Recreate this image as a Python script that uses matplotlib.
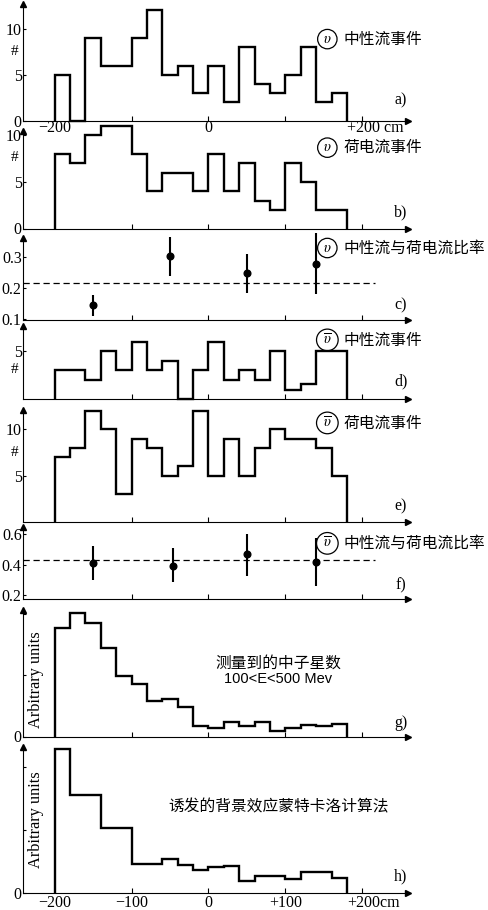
import numpy as np
import matplotlib
matplotlib.use('Agg')
import matplotlib.pyplot as plt

plt.rcParams['font.family'] = ['Liberation Serif', 'Noto Sans CJK SC']
plt.rcParams['mathtext.fontset'] = 'stix'
plt.rcParams['font.size'] = 11.5

# bin edges in cm, 20 cm bins from -200 to +180
edges = np.arange(-200, 181, 20)

# a) neutrino neutral-current events
nu_nc = [5, 0, 9, 6, 6, 9, 12, 5, 6, 3, 6, 2, 8, 4, 3, 5, 8, 2, 3]
# b) neutrino charged-current events
nu_cc = [8, 7, 10, 11, 11, 8, 4, 6, 6, 4, 8, 4, 7, 3, 2, 7, 5, 2, 2]
# c) neutrino NC/CC ratio
nu_x = [-150, -50, 50, 140]
nu_ratio = [0.145, 0.302, 0.247, 0.277]
nu_err_lo = [0.034, 0.064, 0.062, 0.096]
nu_err_hi = [0.033, 0.062, 0.062, 0.098]
nu_mean = 0.215
# d) antineutrino neutral-current events
anu_nc = [3, 3, 2, 5, 3, 6, 3, 4, 0, 3, 6, 2, 3, 2, 5, 1, 1.6, 5, 5]
# e) antineutrino charged-current events
anu_cc = [7, 8, 12, 10, 3, 9, 8, 5, 6, 12, 5, 9, 5, 8, 10, 9, 9, 8, 5]
# f) antineutrino NC/CC ratio
anu_x = [-150, -46, 50, 140]
anu_ratio = [0.411, 0.395, 0.470, 0.422]
anu_err_lo = [0.109, 0.108, 0.140, 0.159]
anu_err_hi = [0.113, 0.114, 0.133, 0.152]
anu_mean = 0.435
# g) measured neutron stars
n_stars = [1.762, 2.016, 1.843, 1.436, 0.992, 0.856, 0.580, 0.607, 0.488, 0.179,
           0.136, 0.228, 0.163, 0.233, 0.092, 0.136, 0.190, 0.163, 0.206]
# h) Monte Carlo induced background
mc_bg = [2.30, 1.555, 1.555, 1.04, 1.04, 0.456, 0.456, 0.536, 0.441, 0.361,
         0.403, 0.425, 0.191, 0.265, 0.265, 0.212, 0.334, 0.334, 0.239]

# x labels under panels a) and h)
top_xpos = [-200, 0]
top_xlab = ['\u2212200', '0']
bot_xpos = [-200, -100, 0, 100]
bot_xlab = ['\u2212200', '\u2212100', '0', '+100']

W, H = 489, 910
fig = plt.figure(figsize=(W / 100, H / 100), dpi=100)

X0, X1 = 23.3, 408
XLIM = (-240.6, 259.2)
CJK = ['Noto Sans CJK SC', 'DejaVu Sans']


def make_ax(bot, top, ylim):
    ax = fig.add_axes([X0 / W, (H - bot) / H, (X1 - X0) / W, (bot - top) / H])
    ax.set_xlim(*XLIM)
    ax.set_ylim(*ylim)
    for s in ['top', 'right']:
        ax.spines[s].set_visible(False)
    for s in ['left', 'bottom']:
        ax.spines[s].set_linewidth(0.8)
    ax.plot(1, 0, '>k', ms=4.5, transform=ax.transAxes, clip_on=False)
    ax.plot(0, 1, '^k', ms=4.5, transform=ax.transAxes, clip_on=False)
    ax.set_xticks([-100, 0, 100, 200])
    ax.set_xticklabels([])
    ax.tick_params(axis='x', direction='in', length=3.6, width=0.8)
    ax.tick_params(axis='y', direction='in', length=2.2, width=0.8, pad=1.2)
    ax.patch.set_alpha(0)
    ax.hpx = bot - top
    return ax


def hist(ax, vals):
    ax.stairs(vals, edges, color='k', lw=1.7, baseline=0, clip_on=False)


def badge(ax, x, y, sym, text):
    ax.text(x, y, sym, ha='center', va='center', fontsize=10.5,
            bbox=dict(boxstyle='circle,pad=0.22', fc='none', ec='k', lw=0.9))
    ax.text(x + 20.5, y, text, ha='left', va='center', fontsize=11.3, family=CJK)


def hash_label(ax, y):
    ax.text(-0.0216, y, '#', transform=ax.get_yaxis_transform(),
            ha='center', va='center', fontsize=11)


def xlabels(ax, pos, labs, off_px):
    tr = ax.get_xaxis_transform()
    for p, l in zip(pos, labs):
        ax.text(p, -off_px / ax.hpx, l, transform=tr, ha='center', va='center')


nu = r'$\upsilon$'
anu = r'$\overline{\upsilon}$'

# a)
ax = make_ax(120.7, 4, (0, 12.7))
hist(ax, nu_nc)
ax.set_yticks([0, 5, 10])
xlabels(ax, top_xpos, top_xlab, 7.6)
ax.text(180, -7.6 / ax.hpx, '+200 cm', transform=ax.get_xaxis_transform(),
        ha='left', va='center')
hash_label(ax, 7.5)
badge(ax, 154.4, 8.88, nu, '中性流事件')
ax.text(250, 2.26, 'a)', ha='center', va='center')

# b)
ax = make_ax(228.5, 131, (0, 10.48))
hist(ax, nu_cc)
ax.set_yticks([0, 5, 10])
hash_label(ax, 7.58)
badge(ax, 154.4, 8.69, nu, '荷电流事件')
ax.text(250, 1.74, 'b)', ha='center', va='center')

# c)
ax = make_ax(320, 238.3, (0.098, 0.359))
ax.errorbar(nu_x, nu_ratio, yerr=[nu_err_lo, nu_err_hi], fmt='o', color='k',
            ms=4.8, elinewidth=1.5, capsize=0, clip_on=False)
ax.plot([XLIM[0], 216], [nu_mean, nu_mean], color='k', lw=0.9, ls=(0, (5, 3)))
ax.set_yticks([0.1, 0.2, 0.3])
ax.set_yticklabels(['0.1', '0.2', '0.3'])
badge(ax, 154.4, 0.328, nu, '中性流与荷电流比率')
ax.text(250, 0.146, 'c)', ha='center', va='center')

# d)
ax = make_ax(399.2, 325.5, (0, 7.67))
hist(ax, anu_nc)
ax.set_yticks([5])
hash_label(ax, 3.04)
badge(ax, 154.4, 6.17, anu, '中性流事件')
ax.text(250, 1.82, 'd)', ha='center', va='center')

# e)
ax = make_ax(521.7, 410, (0, 12.1))
hist(ax, anu_cc)
ax.set_yticks([5, 10])
hash_label(ax, 7.47)
badge(ax, 154.4, 10.7, anu, '荷电流事件')
ax.text(250, 1.7, 'e)', ha='center', va='center')

# f)
ax = make_ax(598.8, 527, (0.178, 0.648))
ax.errorbar(anu_x, anu_ratio, yerr=[anu_err_lo, anu_err_hi], fmt='o', color='k',
            ms=4.8, elinewidth=1.5, capsize=0, clip_on=False)
ax.plot([XLIM[0], 216], [anu_mean, anu_mean], color='k', lw=0.9, ls=(0, (5, 3)))
ax.set_yticks([0.2, 0.4, 0.6])
ax.set_yticklabels(['0.2', '0.4', '0.6'])
badge(ax, 154.4, 0.541, anu, '中性流与荷电流比率')
ax.text(250, 0.269, 'f)', ha='center', va='center')

# g)
ax = make_ax(736.5, 610, (0, 2.06))
hist(ax, n_stars)
ax.set_yticks([0, 1, 2], ['0', '', ''])
ax.text(-223.8, 0.93, 'Arbitrary units', rotation=90, ha='center', va='center', fontsize=11.8)
ax.text(90.5, 1.19, '测量到的中子星数', ha='center', va='center', fontsize=11.3, family=CJK)
ax.text(90.5, 0.93, '100<E<500 Mev', ha='center', va='center', fontsize=10.5,
        family='Liberation Sans')
ax.text(250, 0.22, 'g)', ha='center', va='center')

# h)
ax = make_ax(892.7, 746.7, (0, 2.33))
hist(ax, mc_bg)
ax.set_yticks([0, 1, 2], ['0', '', ''])
xlabels(ax, bot_xpos, bot_xlab, 10)
ax.text(180, -10 / ax.hpx, '+200cm', transform=ax.get_xaxis_transform(),
        ha='left', va='center')
ax.text(-223.8, 1.16, 'Arbitrary units', rotation=90, ha='center', va='center', fontsize=11.8)
ax.text(90.5, 1.37, '诱发的背景效应蒙特卡洛计算法', ha='center', va='center',
        fontsize=11.3, family=CJK)
ax.text(250, 0.255, 'h)', ha='center', va='center')

fig.savefig('out.png', dpi=100)
